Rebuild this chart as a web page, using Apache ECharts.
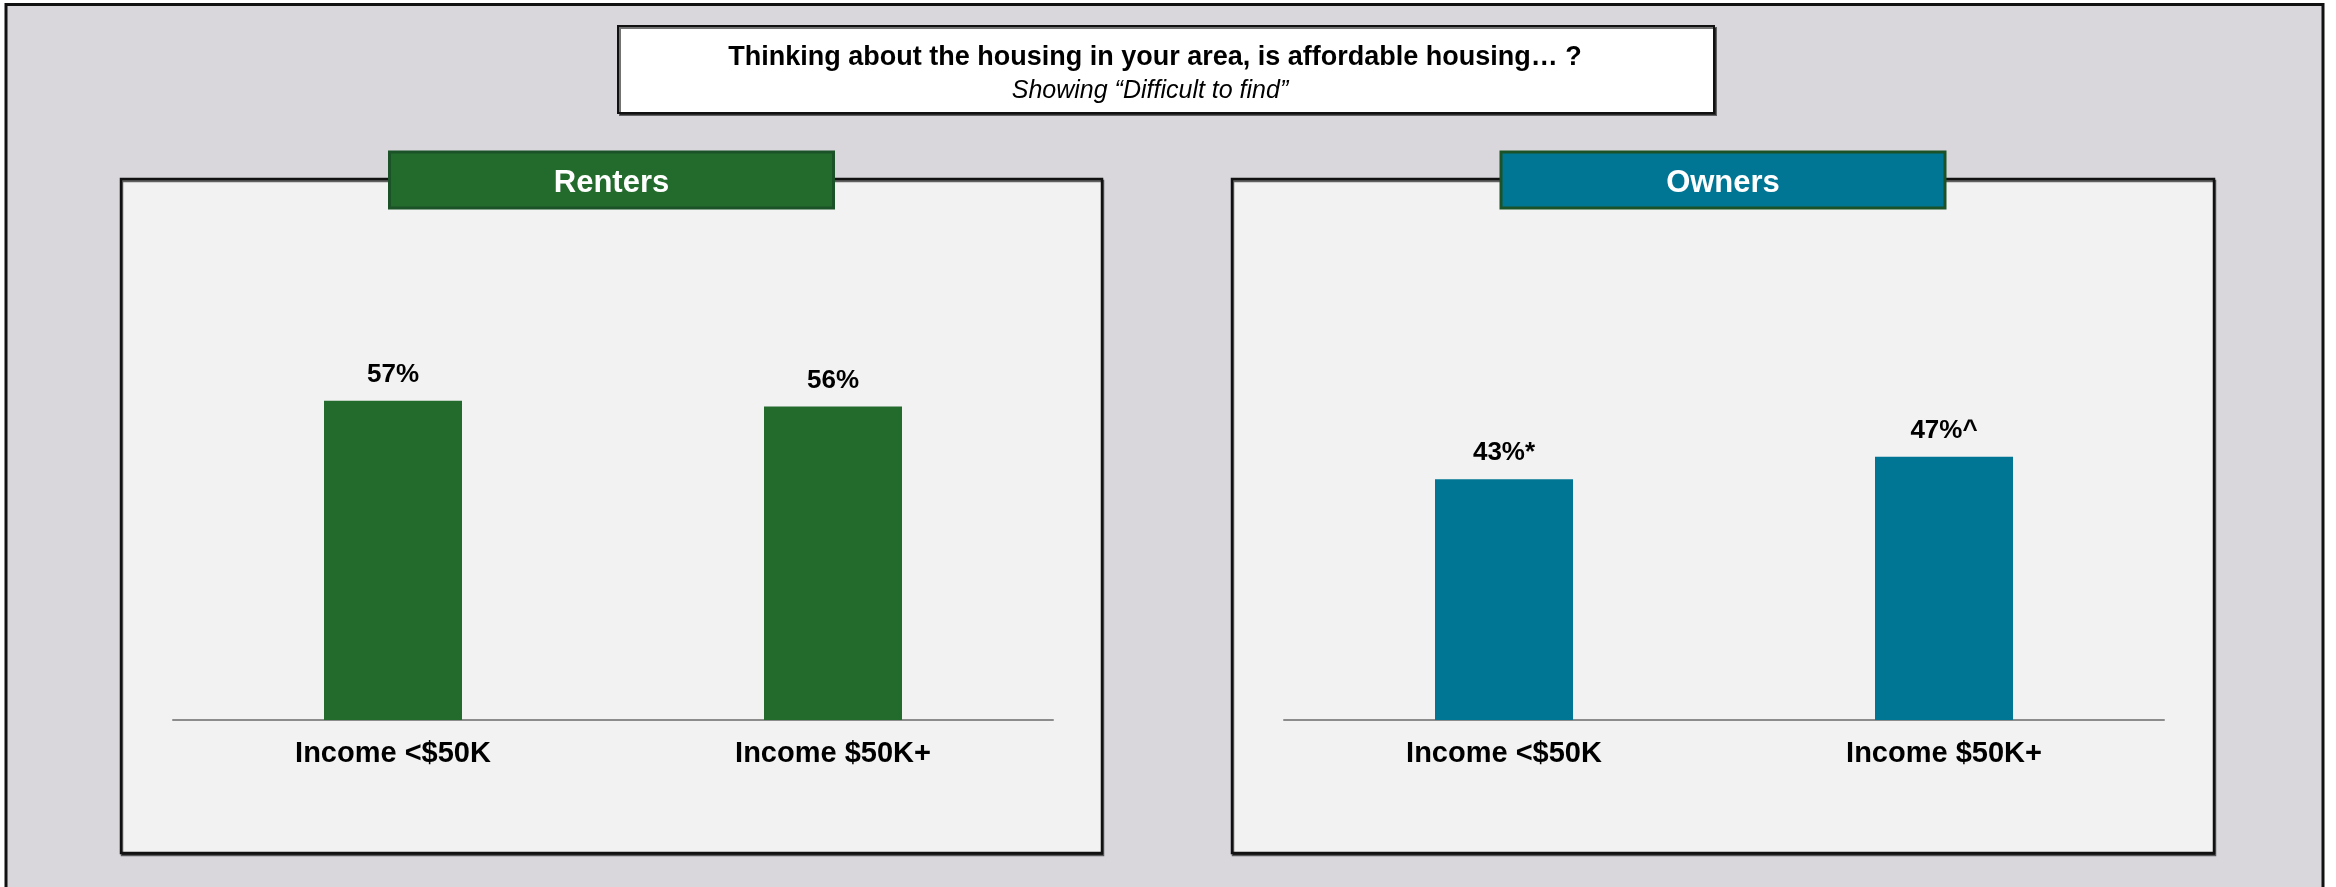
<!DOCTYPE html>
<html>
<head>
<meta charset="utf-8">
<title>Affordable housing – difficult to find</title>
<script src="https://cdn.jsdelivr.net/npm/echarts@6/dist/echarts.min.js"></script>
<style>
  html, body { margin: 0; padding: 0; background: #ffffff; }
  #chart { width: 2336px; height: 887px; }
</style>
</head>
<body>
<div id="chart"></div>
<script>
// Survey results: share answering "Difficult to find"
const categories = ['Income <$50K', 'Income $50K+'];
const renterValues = [57, 56];
const ownerValues = [43, 47];
const ownerMarks = ['*', '^'];
const panelNames = ['Renters', 'Owners'];
const titleText = 'Thinking about the housing in your area, is affordable housing… ?';
const subtitleText = 'Showing “Difficult to find”';

const FONT = '"Liberation Sans", Arial, Helvetica, sans-serif';
const GREEN = '#236b2d';
const TEAL = '#007694';
const PANEL_FILL = '#f2f2f2';
const FRAME_FILL = '#d9d7dc';

const chart = echarts.init(document.getElementById('chart'), null, { renderer: 'canvas' });

// Panel boxes (left x, width) in pixels
const panels = [
  { x: 121, w: 981, color: GREEN, gridLeft: 173 },
  { x: 1232, w: 982, color: TEAL, gridLeft: 1284 }
];
const GRID_W = 880;
const GRID_TOP = 160;
const GRID_BOTTOM = 167;

const graphics = [
  // outer frame
  {
    type: 'rect', z: -30, silent: true,
    shape: { x: 6, y: 4.5, width: 2317, height: 900 },
    style: { fill: FRAME_FILL, stroke: '#111', lineWidth: 3 }
  },
  // title box
  {
    type: 'rect', z: -20, silent: true,
    shape: { x: 618, y: 26, width: 1096, height: 87 },
    style: { fill: '#ffffff', stroke: '#111', lineWidth: 2,
             shadowColor: 'rgba(0,0,0,0.55)', shadowOffsetX: 2, shadowOffsetY: 2, shadowBlur: 0 }
  },
  {
    type: 'text', z: -19, silent: true,
    style: { x: 1155, y: 58, text: titleText, textAlign: 'center', textVerticalAlign: 'middle',
             font: 'bold 27px ' + FONT, fill: '#000' }
  },
  {
    type: 'text', z: -19, silent: true,
    style: { x: 1150, y: 91, text: subtitleText, textAlign: 'center', textVerticalAlign: 'middle',
             font: 'italic 25px ' + FONT, fill: '#000' }
  }
];

panels.forEach((p, i) => {
  graphics.push({
    type: 'rect', z: -20, silent: true,
    shape: { x: p.x, y: 179, width: p.w, height: 674 },
    style: { fill: PANEL_FILL, stroke: '#111', lineWidth: 2.5,
             shadowColor: 'rgba(0,0,0,0.6)', shadowOffsetX: 1, shadowOffsetY: 2, shadowBlur: 0 }
  });
  const hx = p.x + p.w / 2;
  graphics.push({
    type: 'rect', z: 20, silent: true,
    shape: { x: hx - 222, y: 152, width: 444, height: 56 },
    style: { fill: p.color, stroke: '#1b5227', lineWidth: 3 }
  });
  graphics.push({
    type: 'text', z: 21, silent: true,
    style: { x: hx, y: 183, text: panelNames[i], textAlign: 'center', textVerticalAlign: 'middle',
             font: 'bold 31px ' + FONT, fill: '#ffffff' }
  });
});

function gridFor(p) {
  return { left: p.gridLeft, width: GRID_W, top: GRID_TOP, bottom: GRID_BOTTOM, containLabel: false };
}

function xAxisFor(idx) {
  return {
    type: 'category', gridIndex: idx, data: categories,
    axisLine: { show: true, lineStyle: { color: '#8c8c8c', width: 2 } },
    axisTick: { show: false },
    axisLabel: { margin: 19, fontSize: 29, fontWeight: 'bold', color: '#000', fontFamily: FONT, interval: 0 }
  };
}

function yAxisFor(idx) {
  return { type: 'value', gridIndex: idx, min: 0, max: 100, show: false, splitLine: { show: false } };
}

function barSeries(idx, values, color, marks) {
  return {
    type: 'bar', xAxisIndex: idx, yAxisIndex: idx, data: values, barWidth: 138, z: 5,
    itemStyle: { color: color },
    label: {
      show: true, position: 'top', distance: 13,
      fontSize: 26, fontWeight: 'bold', color: '#000', fontFamily: FONT,
      formatter: (prm) => prm.value + '%' + (marks ? marks[prm.dataIndex] : '')
    }
  };
}

chart.setOption({
  animation: false,
  backgroundColor: '#ffffff',
  graphic: { elements: graphics },
  grid: [gridFor(panels[0]), gridFor(panels[1])],
  xAxis: [xAxisFor(0), xAxisFor(1)],
  yAxis: [yAxisFor(0), yAxisFor(1)],
  series: [
    barSeries(0, renterValues, GREEN, null),
    barSeries(1, ownerValues, TEAL, ownerMarks)
  ]
});
</script>
</body>
</html>
